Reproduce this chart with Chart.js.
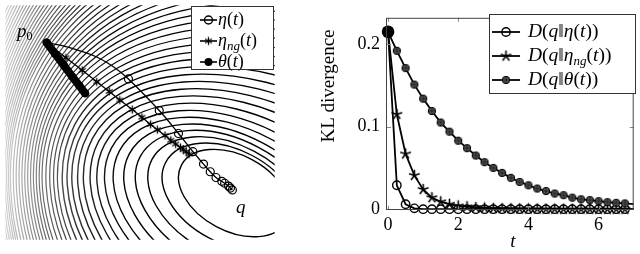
<!DOCTYPE html>
<html>
<head>
<meta charset="utf-8">
<script src="https://cdn.jsdelivr.net/npm/chart.js@4.4.1/dist/chart.umd.min.js"></script>
<style>
  html, body { margin: 0; padding: 0; background: #fff; width: 640px; height: 254px; overflow: hidden; }
  #left { position: absolute; left: 0; top: 0; width: 280px; height: 245px; }
  #right { position: absolute; left: 320px; top: 0; width: 320px; height: 254px; }
</style>
</head>
<body>
<canvas id="left" width="280" height="245"></canvas>
<canvas id="right" width="320" height="254"></canvas>
<script>
// ---- data: right panel (KL divergence over t) ----
const tValues  = [0, 0.25, 0.5, 0.75, 1, 1.25, 1.5, 1.75, 2, 2.25, 2.5, 2.75, 3, 3.25, 3.5, 3.75, 4, 4.25, 4.5, 4.75, 5, 5.25, 5.5, 5.75, 6, 6.25, 6.5, 6.75, 7];
const klEta    = [0.215, 0.029, 0.006, 0.001, 0, 0, 0, 0, 0, 0, 0, 0, 0, 0, 0, 0, 0, 0, 0, 0, 0, 0, 0, 0, 0, 0, 0, 0, 0];
const klEtaNg  = [0.215, 0.115, 0.067, 0.041, 0.024, 0.014, 0.009, 0.006, 0.004, 0.003, 0.002, 0.0015, 0.001, 0.0008, 0.0006, 0.0005, 0.0004, 0.0003, 0.0002, 0.0002, 0.0001, 0.0001, 0.0001, 0, 0, 0, 0, 0, 0];
const klTheta  = [0.215, 0.192, 0.171, 0.151, 0.134, 0.119, 0.105, 0.094, 0.083, 0.074, 0.065, 0.057, 0.050, 0.044, 0.038, 0.033, 0.029, 0.025, 0.022, 0.019, 0.017, 0.014, 0.012, 0.011, 0.0097, 0.0085, 0.0077, 0.007, 0.0062];
const xTicks = [0, 2, 4, 6];
const yTicks = [0, 0.1, 0.2];

// ---- data: left panel (trajectories over the divergence contours) ----
const etaX   = [43, 58, 76, 95, 112, 128, 160, 180, 195, 206, 213, 219, 225, 228, 232, 234, 236];
const etaY   = [39, 42, 47, 54, 64, 77, 110, 134, 153, 166, 174, 180, 184, 186, 189, 191, 193];
const etaNgX = [43, 63, 80, 95, 108, 119, 132, 142, 151, 158, 166, 172, 177, 182, 185, 188, 191];
const etaNgY = [39, 54.8, 68, 80, 90, 99, 109, 117, 124.5, 130, 136, 141, 145, 148.5, 151, 153, 155.5];
const thetaX = [43, 52, 61, 70, 77, 83];
const thetaY = [39, 51, 63, 75, 84, 92];
// contour ellipses: semi-major size and leftmost x of each level
const contourSize = [62, 76, 90, 104, 118, 133, 148, 164, 180, 196, 212, 228, 245, 262, 279, 296, 314, 332, 350, 368, 386, 404, 422, 440, 458, 476, 494, 512, 530, 548, 566, 584, 602, 620, 640, 660, 680, 700, 720, 740, 760, 780, 800, 820, 840, 860, 880, 900, 920, 940];
const contourLeft = [180, 163, 148, 135, 123, 112, 103, 95, 88, 81, 75, 69, 64, 59, 54, 50, 46, 42, 38, 35, 32, 29, 26, 23, 20, 17, 14, 11, 8, 5, 3, 1, -1, -3, -5, -7, -9, -11, -13, -15, -17, -19, -21, -23, -25, -27, -29, -31, -33, -35];

const SERIF = '"Liberation Serif", "DejaVu Serif", serif';

// small marker images (pgfplots style marks)
function makeMarker(size, draw) {
  const c = document.createElement('canvas');
  c.width = c.height = size;
  draw(c.getContext('2d'), size / 2);
  return c;
}
const starImg = makeMarker(13, (g, m) => {
  g.strokeStyle = '#000'; g.lineWidth = 1.6; g.lineCap = 'round';
  g.beginPath();
  for (let k = 0; k < 5; k++) {
    const a = -Math.PI / 2 + k * 2 * Math.PI / 5;
    g.moveTo(m, m); g.lineTo(m + 5 * Math.cos(a), m + 5 * Math.sin(a));
  }
  g.stroke();
});
const asteriskImg = makeMarker(11, (g, m) => {
  g.strokeStyle = '#000'; g.lineWidth = 1.3;
  g.beginPath();
  [90, 30, 150].forEach(d => {
    const a = d * Math.PI / 180;
    g.moveTo(m - 4 * Math.cos(a), m - 4 * Math.sin(a));
    g.lineTo(m + 4 * Math.cos(a), m + 4 * Math.sin(a));
  });
  g.stroke();
});
const oplusImg = makeMarker(10, (g, m) => {
  g.beginPath(); g.arc(m, m, 3.7, 0, 2 * Math.PI);
  g.fillStyle = '#555'; g.fill();
  g.strokeStyle = '#000'; g.lineWidth = 1; g.stroke();
  g.beginPath(); g.moveTo(m - 3, m); g.lineTo(m + 3, m); g.moveTo(m, m - 3); g.lineTo(m, m + 3);
  g.strokeStyle = '#222'; g.stroke();
});

function drawMath(ctx, x, y, parts, size) {
  parts.forEach(p => {
    const s = p.s || size;
    ctx.font = (p.i ? 'italic ' : '') + s + 'px ' + SERIF;
    ctx.fillText(p.t, x, y + (p.dy || 0));
    x += ctx.measureText(p.t).width;
  });
  return x;
}
const I = t => ({ t: t, i: true });
const N = t => ({ t: t });
const SUB = t => ({ t: t, i: true, s: 13, dy: 4 });

function drawLegend(ctx, box, entries, lineX, textX, size, lw) {
  ctx.save();
  ctx.fillStyle = '#fff';
  ctx.fillRect(box[0], box[1], box[2] - box[0], box[3] - box[1]);
  ctx.strokeStyle = '#333'; ctx.lineWidth = 1;
  ctx.strokeRect(box[0] + 0.5, box[1] + 0.5, box[2] - box[0], box[3] - box[1]);
  entries.forEach(e => {
    ctx.strokeStyle = '#000'; ctx.lineWidth = lw;
    ctx.beginPath(); ctx.moveTo(lineX[0], e.y); ctx.lineTo(lineX[1], e.y); ctx.stroke();
    e.marker(ctx, (lineX[0] + lineX[1]) / 2, e.y);
    ctx.fillStyle = '#000'; ctx.textBaseline = 'alphabetic';
    drawMath(ctx, textX, e.y + 5, e.parts, size);
  });
  ctx.restore();
}
const circleMark = r => (ctx, x, y) => {
  ctx.beginPath(); ctx.arc(x, y, r, 0, 2 * Math.PI);
  ctx.lineWidth = 1.4; ctx.strokeStyle = '#000'; ctx.stroke();
};
const imgMark = img => (ctx, x, y) => ctx.drawImage(img, x - img.width / 2, y - img.height / 2);
const dotMark = r => (ctx, x, y) => {
  ctx.beginPath(); ctx.arc(x, y, r, 0, 2 * Math.PI); ctx.fillStyle = '#000'; ctx.fill();
};

// ---------------- left panel ----------------
const contourPlugin = {
  id: 'contours',
  beforeDatasetsDraw(chart) {
    const { ctx, chartArea: a, scales: { x, y } } = chart;
    const kx = x.getPixelForValue(1) - x.getPixelForValue(0);
    const ky = y.getPixelForValue(1) - y.getPixelForValue(0);
    const rot = 28 * Math.PI / 180, sn = Math.sin(rot), cs = Math.cos(rot);
    const leftY = 180;
    ctx.save();
    ctx.beginPath(); ctx.rect(a.left, a.top, a.right - a.left, a.bottom - a.top); ctx.clip();
    const grad = ctx.createLinearGradient(a.left, 0, a.right, 0);
    grad.addColorStop(0, '#d4d4d4');
    grad.addColorStop(0.06, '#aaaaaa');
    grad.addColorStop(0.15, '#666666');
    grad.addColorStop(0.3, '#222222');
    grad.addColorStop(0.45, '#000000');
    grad.addColorStop(1, '#000000');
    ctx.strokeStyle = grad;
    contourSize.forEach((sa, k) => {
      const sb = sa * 0.64;
      const xext = Math.sqrt(sa * sa * cs * cs + sb * sb * sn * sn);
      const cx = contourLeft[k] + xext;
      const cy = leftY + (sa * sa - sb * sb) * sn * cs / xext;
      ctx.lineWidth = k < 14 ? 1.4 : 1.2;
      ctx.beginPath();
      ctx.ellipse(x.getPixelForValue(cx), y.getPixelForValue(cy), sa * kx, sb * ky, rot, 0, 2 * Math.PI);
      ctx.stroke();
    });
    ctx.restore();
  },
  afterDraw(chart) {
    const ctx = chart.ctx;
    ctx.save();
    ctx.fillStyle = '#000';
    drawMath(ctx, 17, 37, [I('p'), { t: '0', s: 12, dy: 3 }], 19);
    drawMath(ctx, 236, 213, [I('q')], 19);
    drawLegend(ctx, [191, 6, 273, 69], [
      { y: 20, marker: circleMark(4), parts: [I('η'), N('('), I('t'), N(')')] },
      { y: 41, marker: imgMark(asteriskImg), parts: [I('η'), SUB('ng'), N('('), I('t'), N(')')] },
      { y: 62, marker: dotMark(4), parts: [I('θ'), N('('), I('t'), N(')')] }
    ], [200, 217], 218, 18, 1.6);
    ctx.restore();
  }
};

const pts = (xs, ys) => xs.map((v, i) => ({ x: v, y: ys[i] }));

new Chart(document.getElementById('left'), {
  type: 'scatter',
  data: {
    datasets: [
      {
        data: pts(thetaX, thetaY), showLine: true,
        borderColor: '#000', borderWidth: 8, borderCapStyle: 'round', borderJoinStyle: 'round',
        pointRadius: 4, pointBackgroundColor: '#000', pointBorderWidth: 0, clip: false
      },
      {
        data: pts(etaNgX, etaNgY), showLine: true,
        borderColor: '#000', borderWidth: 1.3,
        pointStyle: asteriskImg, pointRadius: c => c.dataIndex === 0 ? 0 : 4, clip: false
      },
      {
        data: pts(etaX, etaY), showLine: true, tension: 0.4,
        borderColor: '#000', borderWidth: 1.3,
        pointStyle: 'circle', pointRadius: c => c.dataIndex < 5 ? 0 : 4,
        pointBorderColor: '#000', pointBorderWidth: 1.2, pointBackgroundColor: 'rgba(0,0,0,0)', clip: false
      }
    ]
  },
  options: {
    responsive: false, animation: false, events: [],
    layout: { padding: 0 },
    plugins: { legend: { display: false }, tooltip: { enabled: false } },
    scales: {
      x: { type: 'linear', min: 0, max: 280, display: false },
      y: { type: 'linear', min: 0, max: 245, reverse: true, display: false }
    }
  },
  plugins: [contourPlugin]
});

// ---------------- right panel ----------------
const framePlugin = {
  id: 'frame',
  afterDraw(chart) {
    const { ctx, chartArea: a, scales: { x, y } } = chart;
    ctx.save();
    ctx.strokeStyle = '#888'; ctx.lineWidth = 1;
    ctx.beginPath();
    xTicks.forEach(v => {
      const px = Math.round(x.getPixelForValue(v)) + 0.5;
      ctx.moveTo(px, a.bottom); ctx.lineTo(px, a.bottom - 4);
      ctx.moveTo(px, a.top); ctx.lineTo(px, a.top + 4);
    });
    yTicks.forEach(v => {
      const py = Math.round(y.getPixelForValue(v)) + 0.5;
      ctx.moveTo(a.left, py); ctx.lineTo(a.left + 4, py);
      ctx.moveTo(a.right, py); ctx.lineTo(a.right - 4, py);
    });
    ctx.stroke();
    ctx.strokeStyle = '#444';
    ctx.strokeRect(a.left - 0.5, a.top + 0.5, a.right - a.left, a.bottom - a.top - 1);
    // axis titles
    ctx.fillStyle = '#000';
    ctx.font = '19px ' + SERIF;
    ctx.textAlign = 'center'; ctx.textBaseline = 'alphabetic';
    ctx.save();
    ctx.translate(14, 86); ctx.rotate(-Math.PI / 2);
    ctx.fillText('KL divergence', 0, 0);
    ctx.restore();
    ctx.font = 'italic 19px ' + SERIF;
    ctx.fillText('t', (x.getPixelForValue(3.5) + 2), 247);
    ctx.textAlign = 'left';
    drawLegend(ctx, [169, 14, 315, 93], [
      { y: 32, marker: circleMark(4.2), parts: [I('D'), N('('), I('q'), N('‖'), I('η'), N('('), I('t'), N(')'), N(')')] },
      { y: 56, marker: imgMark(starImg), parts: [I('D'), N('('), I('q'), N('‖'), I('η'), SUB('ng'), N('('), I('t'), N(')'), N(')')] },
      { y: 80, marker: imgMark(oplusImg), parts: [I('D'), N('('), I('q'), N('‖'), I('θ'), N('('), I('t'), N(')'), N(')')] }
    ], [172, 200], 208, 19.5, 1.8);
    ctx.restore();
  }
};

const tickFont = { family: SERIF, size: 18 };

new Chart(document.getElementById('right'), {
  type: 'line',
  data: {
    datasets: [
      {
        data: pts(tValues, klTheta), borderColor: '#000', borderWidth: 1.8,
        pointStyle: c => c.dataIndex === 0 ? 'circle' : oplusImg,
        pointRadius: c => c.dataIndex === 0 ? 6.3 : (c.dataIndex === tValues.length - 1 ? 0 : 4),
        pointBackgroundColor: '#000', pointBorderWidth: 0, clip: false
      },
      {
        data: pts(tValues, klEtaNg), borderColor: '#000', borderWidth: 1.8,
        pointStyle: starImg,
        pointRadius: c => c.dataIndex === tValues.length - 1 ? 0 : 4, clip: false
      },
      {
        data: pts(tValues, klEta), borderColor: '#000', borderWidth: 1.8,
        pointStyle: 'circle',
        pointRadius: c => c.dataIndex === tValues.length - 1 ? 0 : 4.2,
        pointBorderColor: '#000', pointBorderWidth: 1.4, pointBackgroundColor: 'rgba(0,0,0,0)', clip: false
      }
    ]
  },
  options: {
    responsive: false, animation: false, events: [],
    layout: { padding: { left: 0, right: 1, top: 10, bottom: 0 } },
    plugins: { legend: { display: false }, tooltip: { enabled: false } },
    scales: {
      x: {
        type: 'linear', min: -0.03, max: 7,
        afterBuildTicks: s => { s.ticks = xTicks.map(v => ({ value: v })); },
        afterFit: s => { s.height = 44; },
        grid: { display: false, drawTicks: false }, border: { display: false },
        ticks: { font: tickFont, color: '#000', padding: 4, maxRotation: 0, callback: v => String(v) }
      },
      y: {
        type: 'linear', min: -0.001, max: 0.232,
        afterBuildTicks: s => { s.ticks = yTicks.map(v => ({ value: v })); },
        afterFit: s => { s.width = 67; },
        grid: { display: false, drawTicks: false }, border: { display: false },
        ticks: { font: tickFont, color: '#000', padding: 7, callback: v => v === 0 ? '0' : v.toFixed(1) }
      }
    }
  },
  plugins: [framePlugin]
});
</script>
</body>
</html>
